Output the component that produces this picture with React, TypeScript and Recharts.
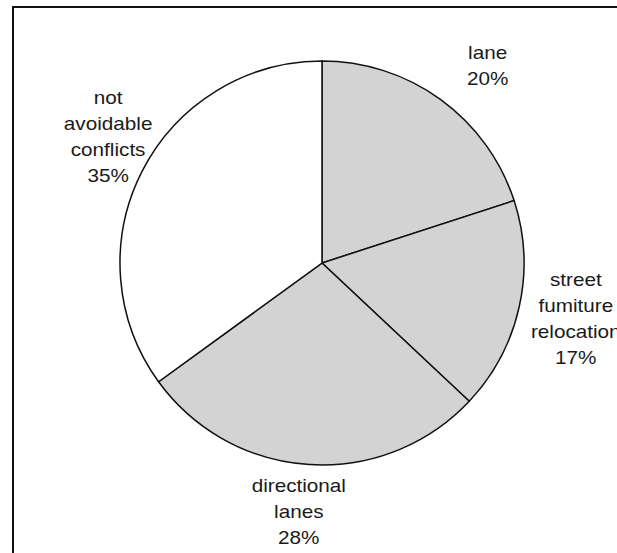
import { PieChart, Pie, Cell } from 'recharts';

const categories = ['lane', 'street\nfumiture\nrelocation', 'directional\nlanes', 'not\navoidable\nconflicts'];
const shares = [20, 17, 28, 35];
const fills = ['#d3d3d3', '#d3d3d3', '#d3d3d3', '#ffffff'];

const data = categories.map((name, i) => ({ name, value: shares[i] }));

// small hand nudges so labels sit where the original placed them
const labelNudge = [
  [14, 11],
  [2, -1],
  [-7, -9],
  [16, -9],
];

const RADIAN = Math.PI / 180;
const LINE_H = 26;

const renderLabel = (props: any) => {
  const { cx, cy, midAngle, index } = props;
  const r = 258;
  const x = cx + r * Math.cos(-midAngle * RADIAN) + labelNudge[index][0];
  const y = cy + r * Math.sin(-midAngle * RADIAN) + labelNudge[index][1];
  const lines = [...categories[index].split('\n'), `${shares[index]}%`];
  const top = -((lines.length - 1) * LINE_H) / 2;
  return (
    <text
      transform={`translate(${x},${y}) scale(1.15,1)`}
      x={0}
      y={top}
      textAnchor="middle"
      dominantBaseline="central"
      fill="#1a1a1a"
      fontSize={18}
      fontFamily="'Liberation Sans', Arial, sans-serif"
    >
      {lines.map((l, i) => (
        <tspan key={i} x={0} y={top + i * LINE_H}>
          {l}
        </tspan>
      ))}
    </text>
  );
};

export default function App() {
  return (
    <div style={{ position: 'absolute', left: 0, top: 0, width: 617, height: 553, background: '#fff', overflow: 'hidden' }}>
      <div
        style={{
          position: 'absolute',
          left: 12,
          top: 6,
          width: 700,
          height: 700,
          borderLeft: '2px solid #111',
          borderTop: '2px solid #111',
        }}
      />
      <div style={{ position: 'absolute', left: 0, top: 0 }}>
        <PieChart width={617} height={553} margin={{ top: 0, right: 0, bottom: 0, left: 0 }}>
          <Pie
            data={data}
            dataKey="value"
            cx={322}
            cy={263}
            outerRadius={202}
            startAngle={90}
            endAngle={-270}
            stroke="#111"
            strokeWidth={1.5}
            label={renderLabel}
            labelLine={false}
            isAnimationActive={false}
          >
            {data.map((d, i) => (
              <Cell key={d.name} fill={fills[i]} />
            ))}
          </Pie>
        </PieChart>
      </div>
    </div>
  );
}
